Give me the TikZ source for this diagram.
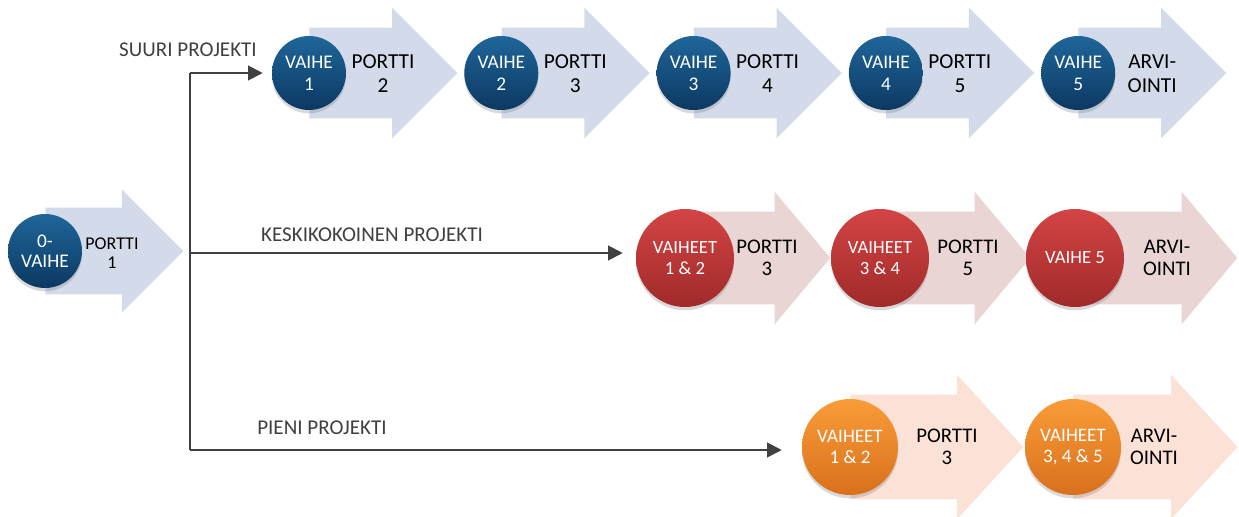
\documentclass[tikz,border=0pt]{standalone}
\usepackage{fontspec}
\setmainfont{Carlito}
\usetikzlibrary{shapes.arrows,arrows.meta,shadows}

\definecolor{bluetop}{HTML}{1F6699}
\definecolor{bluebot}{HTML}{0C3862}
\definecolor{bluegate}{HTML}{D3DBEA}
\definecolor{redtop}{HTML}{D44444}
\definecolor{redbot}{HTML}{A02A2A}
\definecolor{redgate}{HTML}{EAD5D5}
\definecolor{orangetop}{HTML}{F99C38}
\definecolor{orangebot}{HTML}{D9701C}
\definecolor{orangegate}{HTML}{FBE1D6}
\definecolor{linegray}{HTML}{404040}

\newcommand\st{192.3}

\begin{document}
\begin{tikzpicture}[
			x=0.75pt,y=-0.75pt,
			phase/.style={circle,inner sep=0pt,text=white,align=center,
				drop shadow={shadow xshift=0pt,shadow yshift=-2.5pt,opacity=.3}},
			bluephase/.style={phase,minimum size=55.5pt,top color=bluetop,bottom color=bluebot,
				font=\fontsize{14.5}{16.5}\selectfont},
			redphase/.style={phase,minimum size=73.5pt,top color=redtop,bottom color=redbot,
				font=\fontsize{14}{16}\selectfont},
			orangephase/.style={phase,minimum size=72pt,top color=orangetop,bottom color=orangebot,
				font=\fontsize{14.3}{16}\selectfont},
			gate/.style={single arrow,anchor=tail,draw=none,inner xsep=0pt,
				single arrow head extend=15pt},
			bluegate/.style={gate,fill=bluegate,inner ysep=33.75pt,minimum height=111pt},
			redgate/.style={gate,fill=redgate,inner ysep=34.5pt,single arrow tip angle=100},
			orangegate/.style={gate,fill=orangegate,inner ysep=39pt,single arrow tip angle=95},
			gatetext/.style={align=center,font=\fontsize{16}{18}\selectfont},
			biggatetext/.style={align=center,font=\fontsize{15.6}{16.5}\selectfont},
			project/.style={text=linegray,font=\fontsize{15.8}{18}\selectfont},
			link/.style={draw=linegray,line width=1.5pt},
		]
		\useasboundingbox (0,0) rectangle (1239,517);

		% gate arrows first, the phase circles go on top of them
		\node [gate,fill=bluegate,inner ysep=32.25pt,single arrow head extend=13.5pt,minimum height=103.5pt] (a0) at (45,251) {};

		\node [bluegate] (a1) at (309,73) {};
		\node [bluegate] (a2) at ([shift={(\st,0)}]a1.tail) {};
		\node [bluegate] (a3) at ([shift={(\st,0)}]a2.tail) {};
		\node [bluegate] (a4) at ([shift={(\st,0)}]a3.tail) {};
		\node [bluegate] (a5) at ([shift={(\st,0)}]a4.tail) {};

		\node [redgate,minimum height=108.75pt] (b1) at (685,258) {};
		\node [redgate,minimum height=112.5pt] (b2) at (880,258) {};
		\node [redgate,minimum height=121.5pt] (b3) at (1075,258) {};

		\node [orangegate,minimum height=129.75pt] (c1) at (850,447) {};
		\node [orangegate,minimum height=123pt] (c2) at (1073,447) {};

		% phases
		\node [bluephase,font=\fontsize{14.5}{15}\selectfont] (v0) at (a0.tail) {0-\\VAIHE};
		\node [bluephase] (v1) at (a1.tail) {VAIHE\\1};
		\node [bluephase] (v2) at (a2.tail) {VAIHE\\2};
		\node [bluephase] (v3) at (a3.tail) {VAIHE\\3};
		\node [bluephase] (v4) at (a4.tail) {VAIHE\\4};
		\node [bluephase] (v5) at (a5.tail) {VAIHE\\5};

		\node [redphase] (m1) at (b1.tail) {VAIHEET\\1 \& 2};
		\node [redphase] (m2) at (b2.tail) {VAIHEET\\3 \& 4};
		\node [redphase] (m3) at (b3.tail) {VAIHE 5};

		\node [orangephase] (p1) at (c1.tail) {VAIHEET\\1 \& 2};
		\node [orangephase] (p2) at (c2.tail) {VAIHEET\\3, 4 \& 5};

		% gate texts
		\node [gatetext,font=\fontsize{13.5}{14.5}\selectfont] (g0) at ([shift={(67,2)}]a0.tail) {PORTTI\\1};
		\node [gatetext] (g1) at ([shift={(74,1)}]a1.tail) {PORTTI\\2};
		\node [gatetext] (g2) at ([shift={(74,1)}]a2.tail) {PORTTI\\3};
		\node [gatetext] (g3) at ([shift={(74,1)}]a3.tail) {PORTTI\\4};
		\node [gatetext] (g4) at ([shift={(74,1)}]a4.tail) {PORTTI\\5};
		\node [gatetext] (g5) at ([shift={(74,1)}]a5.tail) {ARVI-\\OINTI};

		\node [biggatetext] (h1) at ([shift={(82,0)}]b1.tail) {PORTTI\\3};
		\node [biggatetext] (h2) at ([shift={(88,0)}]b2.tail) {PORTTI\\5};
		\node [biggatetext] (h3) at ([shift={(92,0)}]b3.tail) {ARVI-\\OINTI};

		\node [biggatetext] (k1) at ([shift={(97,0)}]c1.tail) {PORTTI\\3};
		\node [biggatetext] (k2) at ([shift={(81,0)}]c2.tail) {ARVI-\\OINTI};

		% project sizes
		\node [project] (l1) at (188,50) {SUURI PROJEKTI};
		\node [project] (l2) at (372,235) {KESKIKOKOINEN PROJEKTI};
		\node [project] (l3) at (322,428) {PIENI PROJEKTI};

		\coordinate (jt) at (190,73);
		\coordinate (jm) at (190,253);
		\coordinate (jb) at (190,450);

		\draw[link] (jt)--(jb);
		\draw[link,-{Triangle[length=11pt,width=11pt]},shorten >=6.75pt] (jt)--(jt -| v1.west);
		\draw[link,-{Triangle[length=11pt,width=11pt]},shorten >=9.75pt] (jm)--(jm -| m1.west);
		\draw[link,-{Triangle[length=11pt,width=11pt]},shorten >=15pt] (jb)--(jb -| p1.west);
	\end{tikzpicture}
\end{document}
